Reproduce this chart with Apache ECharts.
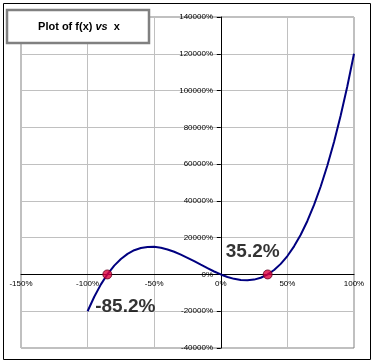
<!DOCTYPE html>
<html><head><meta charset="utf-8">
<script src="https://cdn.jsdelivr.net/npm/echarts@6/dist/echarts.min.js"></script>
<style>html,body{margin:0;padding:0;background:#fff}#c{width:375px;height:363px}</style>
</head><body><div id="c"></div>
<script>
// x values (fraction; 1 = 100%)
const xs = [-1,-0.95,-0.9,-0.85,-0.8,-0.75,-0.7,-0.65,-0.6,-0.55,-0.5,-0.45,-0.4,-0.35,-0.3,-0.25,-0.2,-0.15,-0.1,-0.05,0,0.05,0.1,0.15,0.2,0.25,0.3,0.35,0.4,0.45,0.5,0.55,0.6,0.65,0.7,0.75,0.8,0.85,0.9,0.95,1];
// f(x) values (fraction; 1 = 100%)
const fx = [-200.1,-121.2,-54.1,2.0,47.9,84.3,111.9,131.6,143.9,149.8,150.0,145.1,136.0,123.3,108.0,90.6,72.0,52.9,34.0,16.1,0,-13.6,-24.0,-30.4,-32.0,-28.1,-18.0,-0.8,24.0,57.4,100.0,152.7,216.1,290.9,378.1,478.2,592.1,720.5,864.1,1023.7,1200.1];
// roots
const rootX = [-0.852, 0.352];
const rootY = [0, 0];
const rootLabels = ['-85.2%', '35.2%'];

const FONT = 'Liberation Sans, Arial, sans-serif';
const pct = v => Math.round(v * 100) + '%';

const xCommon = {type: 'value', min: -1.5, max: 1, interval: 0.5};
const yCommon = {type: 'value', min: -400, max: 1400, interval: 200};

const chart = echarts.init(document.getElementById('c'));
chart.setOption({
  animation: false,
  backgroundColor: '#fff',
  grid: {left: 21, right: 21, top: 17, bottom: 15, containLabel: false, outerBoundsMode: 'none',
         show: true, borderColor: '#808080', borderWidth: 1},
  xAxis: [
    Object.assign({}, xCommon, {
      axisLine: {onZero: true, lineStyle: {color: '#000', width: 1}},
      axisTick: {show: false},
      axisLabel: {show: false},
      splitLine: {show: true, lineStyle: {color: '#c0c0c0', width: 1}}
    }),
    Object.assign({}, xCommon, {
      position: 'bottom', offset: -75,
      axisLine: {show: false, onZero: false},
      axisTick: {show: false},
      axisLabel: {formatter: pct, fontFamily: FONT, fontSize: 8, color: '#000', margin: 7},
      splitLine: {show: false}
    })
  ],
  yAxis: [
    Object.assign({}, yCommon, {
      axisLine: {onZero: true, lineStyle: {color: '#000', width: 1}},
      axisTick: {show: true, inside: false, length: 4, lineStyle: {color: '#000'}},
      axisLabel: {show: false},
      splitLine: {show: true, lineStyle: {color: '#c0c0c0', width: 1}}
    }),
    Object.assign({}, yCommon, {
      position: 'left', offset: -200,
      axisLine: {show: false, onZero: false},
      axisTick: {show: false},
      axisLabel: {formatter: pct, fontFamily: FONT, fontSize: 8, color: '#000', margin: 8},
      splitLine: {show: false}
    })
  ],
  series: [
    {
      type: 'line',
      xAxisIndex: 0, yAxisIndex: 0,
      data: xs.map((x, i) => [x, fx[i]]),
      showSymbol: false, symbol: 'none',
      lineStyle: {color: '#000080', width: 2},
      z: 3
    },
    {
      type: 'scatter',
      xAxisIndex: 0, yAxisIndex: 0,
      data: rootX.map((x, i) => ({
        value: [x, rootY[i]],
        label: {
          show: true, formatter: rootLabels[i],
          position: 'inside',
          offset: i === 0 ? [18, 32] : [-15, -23],
          fontFamily: FONT, fontSize: 19, fontWeight: 'bold', color: '#000',
          textBorderWidth: 0, textBorderColor: 'transparent'
        }
      })),
      symbol: 'circle', symbolSize: 9,
      itemStyle: {color: '#e0003c', borderColor: '#600020', borderWidth: 1},
      z: 5
    }
  ],
  graphic: [
    {type: 'rect', shape: {x: 3.5, y: 3.5, width: 367, height: 356}, style: {fill: 'none', stroke: '#000', lineWidth: 1}, z: 10},
    {type: 'rect', shape: {x: 7, y: 10, width: 142, height: 33}, style: {fill: '#fff', stroke: '#808080', lineWidth: 2.5}, z: 10},
    {type: 'text', x: 79, y: 27, z: 11, style: {
      text: '{b|Plot of f(x) }{i|vs}{b|  x}', align: 'center', verticalAlign: 'middle',
      rich: {
        b: {fontFamily: FONT, fontSize: 11, fontWeight: 'bold', fill: '#000'},
        i: {fontFamily: FONT, fontSize: 11, fontWeight: 'bold', fontStyle: 'italic', fill: '#000'}
      }
    }}
  ]
});
</script></body></html>
